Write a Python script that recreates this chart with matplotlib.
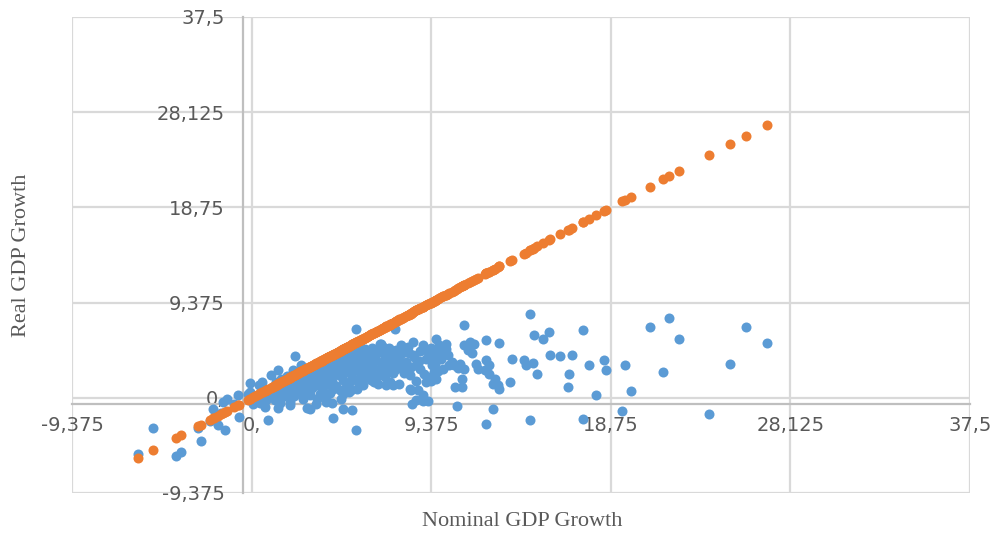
import matplotlib
matplotlib.use("Agg")
import matplotlib.pyplot as plt

# axis ticks (Excel style, decimal comma)
tick_values = [-9.375, 0, 9.375, 18.75, 28.125, 37.5]
tick_labels = ["-9,375", "0,", "9,375", "18,75", "28,125", "37,5"]

# nominal vs real GDP growth (rows kept aligned)
nominal = [
    -5.93, -5.15, -3.93, -3.7, -2.8, -2.63, -2.02, -1.76, -1.41, -1.3,
    -1.5, -0.66, -0.7, -0.19, -0.1, -0.9, -0.1, -2.15, -1.95, -1.6,
    0.38, 0.55, 1.0, 1.37, 0.85, 0.7, 1.4, 1.5, 0.07, 0.77,
    0.2, 0.3, 0.6, 0.8, 0.45, 0.8, 1.1, 1.4, 1.7, 1.98,
    1.05, 1.15, 1.2, 1.3, 1.35, 1.45, 1.5, 1.6, 1.65, 1.75,
    1.8, 1.9, 1.95, 2.0, 1.25, 1.55, 1.85, 1.98, 2.0, 2.1,
    2.05, 2.1, 2.15, 2.2, 2.25, 2.3, 2.35, 2.4, 2.45, 2.5,
    2.55, 2.6, 2.62, 2.7, 2.75, 2.8, 2.85, 2.9, 2.92, 2.95,
    2.68, 2.24, 2.4, 2.8, 2.6, 3.38, 3.0, 3.2, 3.5, 3.75,
    3.0, 3.03, 3.03, 3.05, 3.1, 3.15, 3.2, 3.25, 3.3, 3.35,
    3.4, 3.42, 3.5, 3.55, 3.58, 3.65, 3.65, 3.7, 3.75, 3.8,
    3.85, 3.9, 3.9, 3.95, 3.98, 3.3, 3.6, 4.0, 4.0, 4.2,
    4.05, 4.1, 4.15, 4.2, 4.24, 4.24, 4.3, 4.35, 4.4, 4.45,
    4.5, 4.55, 4.6, 4.65, 4.68, 4.72, 4.77, 4.77, 4.82, 4.88,
    4.94, 4.94, 4.98, 4.77, 4.3, 4.6, 4.9, 4.5, 4.8, 4.1,
    5.05, 5.1, 5.15, 5.2, 5.25, 5.25, 5.35, 5.4, 5.46, 5.46,
    5.5, 5.55, 5.6, 5.7, 5.75, 5.8, 5.85, 5.9, 5.95, 5.3,
    5.7, 5.0, 5.3, 5.6, 5.8, 5.72, 5.9, 5.1, 5.5, 5.65,
    6.07, 6.16, 6.25, 6.3, 6.4, 6.5, 6.6, 6.68, 6.75, 6.85,
    6.85, 6.95, 7.03, 7.03, 7.1, 7.2, 7.2, 7.3, 7.4, 7.46,
    7.55, 7.55, 7.65, 7.72, 7.8, 7.9, 6.1, 6.2, 6.4, 6.8,
    7.0, 7.4, 7.7, 6.68, 7.3, 6.25, 6.6, 6.94, 6.5, 6.07,
    7.37, 6.0, 6.35, 6.9, 7.15, 7.6, 7.85, 7.95, 6.55, 7.25,
    8.07, 8.07, 8.15, 8.25, 8.25, 8.38, 8.42, 8.5, 8.6, 8.6,
    8.2, 8.6, 8.7, 8.8, 8.94, 8.94, 8.94, 9.1, 9.1, 8.34,
    8.3, 8.8, 9.2, 9.5, 9.2, 8.45, 8.75, 9.0, 8.15, 9.35,
    9.3, 9.38, 9.4, 9.55, 9.62, 9.45, 9.64, 9.64, 9.8, 9.9,
    10.25, 9.99, 10.0, 9.75, 10.16, 10.16, 10.33, 10.45, 10.55, 10.6,
    10.7, 10.77, 10.9, 11.0, 11.0, 11.1, 11.1, 11.1, 11.3, 11.4,
    11.5, 11.6, 11.7, 11.8, 12.16, 12.25, 12.25, 12.25, 12.4, 12.4,
    12.6, 12.7, 12.86, 12.94, 12.94, 12.6, 13.5, 13.6, 14.2, 14.3,
    14.55, 14.55, 14.72, 14.7, 14.9, 15.2, 15.5, 15.6, 16.1, 16.7,
    17.3, 16.56, 16.5, 17.6, 18.4, 18.5, 18.0, 17.3, 19.47, 19.8,
    19.35, 20.8, 21.8, 22.3, 21.5, 23.9, 24.95, 25.8, 26.9,
]
real = [
    -5.5, -3.0, -5.75, -5.35, -2.95, -4.3, -1.15, -2.65, -3.2, -0.1,
    -0.4, -1.9, 0.25, 0.4, 1.5, -0.6, 0.57, -2.3, -2.1, -1.5,
    1.23, 1.6, 2.2, 2.75, -2.2, -0.9, -1.0, -0.5, -0.57, -0.25,
    0.1, -0.3, 0.2, 0.5, -0.5, 0.8, 1.0, 1.3, 1.6, -0.74,
    0.4, 0.9, -0.2, 1.1, 0.3, 0.8, 1.3, 0.1, 0.6, 1.5,
    0.9, 0.3, 1.2, 1.7, 1.6, 1.9, 2.1, -0.4, 1.0, 1.9,
    0.7, 1.4, 2.7, 0.2, 1.0, 1.8, 2.2, 0.6, 1.4, 2.0,
    0.9, 3.2, 1.7, 2.4, 0.4, 1.2, 1.9, -1.0, 2.6, 0.8,
    -0.08, 4.1, 2.2, 2.6, 1.2, -0.57, 0.6, 2.95, 3.3, 3.5,
    1.5, 0.25, -1.06, 2.2, 2.9, 1.0, 1.8, 2.5, 3.0, 1.3,
    -0.1, 2.1, 2.8, 0.4, 1.6, 0.7, 3.3, 2.3, 1.1, 2.9,
    1.9, 0.08, -0.4, 3.5, 2.5, 2.2, 1.9, 2.4, 3.7, 1.7,
    1.4, 3.0, 2.0, -0.55, -1.95, 0.9, 3.6, 2.6, 1.2, 3.2,
    4.5, 2.2, 0.8, 3.8, -0.08, 2.9, -1.06, 1.8, 3.4, 4.0,
    4.85, 1.06, 2.5, 0.4, 4.0, 4.2, 4.4, 3.5, 2.6, 0.5,
    3.2, 0.57, 4.3, 0.8, -1.23, 2.0, 3.7, 2.7, 6.75, -3.2,
    4.6, 1.6, 3.3, 2.3, 4.1, 1.23, 3.0, 4.8, 2.0, 4.6,
    4.7, 3.8, 2.9, 3.9, 2.6, 3.7, 2.2, 1.5, 0.9, 1.9,
    3.2, 4.18, 2.5, 4.9, 1.6, 3.7, 4.5, 2.88, 5.3, 5.0,
    2.2, 3.9, 4.85, 1.23, 3.0, 3.53, 1.56, 4.3, 2.4, 6.8,
    4.68, 2.88, 3.6, 1.4, 5.2, 3.0, 4.6, 3.5, 4.0, 3.4,
    4.2, 4.6, 4.1, 5.34, 3.7, 1.72, 1.4, 2.05, 4.35, 4.0,
    1.23, 2.8, 3.0, 2.6, 4.9, 3.3, 4.4, 2.4, 2.1, 2.7,
    4.85, 3.53, 2.4, 2.2, 0.9, -0.57, 5.5, 4.0, 3.2, 1.7,
    4.4, -0.25, 0.74, 4.6, 5.17, 0.25, -0.3, 3.86, 1.55, 0.74,
    3.0, 2.8, 4.5, 2.5, -0.3, 4.2, 3.6, 2.3, 5.0, 4.9,
    2.05, 1.7, 3.2, 3.37, 5.75, 4.0, 4.5, 1.9, 5.17, 3.86,
    4.2, 2.88, 4.5, 2.6, 5.34, 4.85, 3.2, 3.5, 3.2, 1.06,
    -0.8, 2.9, 3.37, 1.9, 1.06, 7.14, 5.2, 2.88, 4.7, 5.5,
    4.4, 5.3, 3.37, 2.88, 2.7, 5.66, 3.7, -2.6, 3.2, 2.38,
    -1.06, 1.9, 1.23, 5.4, 0.9, 1.4, 1.56, 3.86, 3.7, 3.2,
    8.3, -2.15, 6.22, 3.45, 2.38, 5.76, 6.5, 4.25, 4.08, 4.25,
    6.7, 2.38, 1.06, 3.2, 3.7, 2.78, 0.25, -2.05, 3.2, 0.67,
    -1.3, 6.97, 7.9, 5.76, 2.5, -1.56, 3.3, 6.97, 5.4,
]
# second series: nominal plotted against itself
line_y = nominal

blue = "#5B9BD5"
orange = "#ED7D31"
grey_txt = "#595959"
font = "Liberation Serif"

fig = plt.figure(figsize=(9.9, 5.36), dpi=100)
ax = fig.add_axes([72 / 990, 1 - 493 / 536, 898 / 990, 476 / 536])

ax.scatter(nominal, real, s=52, color=blue, linewidths=0, zorder=3)
ax.scatter(nominal, line_y, s=52, color=orange, linewidths=0, zorder=4)

ax.set_xlim(-9.375, 37.5)
ax.set_ylim(-9.375, 37.5)
ax.set_xticks(tick_values)
ax.set_yticks(tick_values)
ax.set_xticklabels(tick_labels, family=font)
ax.set_yticklabels(tick_labels, family=font)
ax.tick_params(length=0, labelsize=14, colors=grey_txt)
ax.tick_params(axis="y", pad=13)
ax.tick_params(axis="x", pad=9)

ax.grid(True, color="#D9D9D9", lw=1.6, zorder=0)
for gl in ax.get_xgridlines() + ax.get_ygridlines():
    gl.set_clip_on(False)
ax.set_axisbelow(True)

# axes cross just below/left of zero like in the excel chart
for side in ["top", "right"]:
    ax.spines[side].set_visible(False)
ax.spines["left"].set_position(("data", -0.47))
ax.spines["bottom"].set_position(("data", -0.6))
for side in ["left", "bottom"]:
    ax.spines[side].set_color("#BFBFBF")
    ax.spines[side].set_linewidth(1.6)
    ax.spines[side].set_zorder(1)

fig.text(522 / 990, 1 - 522 / 536, "Nominal GDP Growth", ha="center", va="center",
         fontsize=16, family=font, color=grey_txt)
fig.text(22 / 990, 1 - 255 / 536, "Real GDP Growth", ha="center", va="center",
         rotation=90, fontsize=16, family=font, color=grey_txt)

fig.savefig("out.png", dpi=100)
